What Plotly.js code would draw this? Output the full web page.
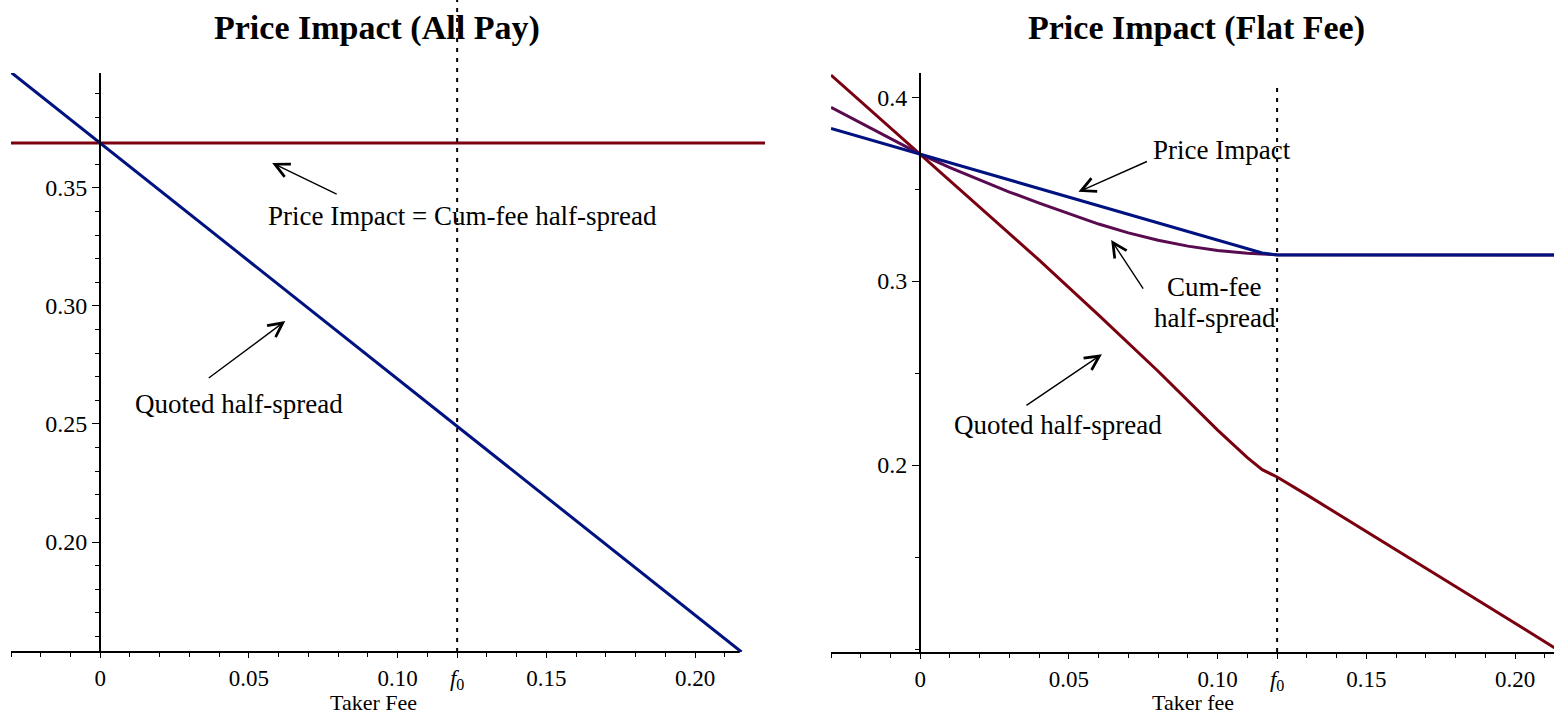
<!DOCTYPE html>
<html>
<head>
<meta charset="utf-8">
<script src="https://cdn.plot.ly/plotly-3.0.1.min.js"></script>
<style>html,body{margin:0;padding:0;background:#fff;}#chart{width:1554px;height:716px;}</style>
</head>
<body>
<div id="chart"></div>
<script>
// ---- data ----
const F0 = 0.12;

// Left panel: Price Impact (All Pay)
const leftQuotedX = [-0.03, 0, 0.05, 0.10, 0.15, 0.20, 0.2156];
const leftQuotedY = [0.399, 0.369, 0.319, 0.269, 0.219, 0.169, 0.1534];
const leftImpactX = [-0.03, 0.2235];
const leftImpactY = [0.369, 0.369];

// Right panel: Price Impact (Flat Fee)
const rightImpactX = [-0.03, 0, 0.02, 0.04, 0.06, 0.08, 0.10, 0.11, 0.115, 0.12, 0.215];
const rightImpactY = [0.383, 0.369, 0.3597, 0.3503, 0.3409, 0.3316, 0.3222, 0.3175, 0.3153, 0.3142, 0.3142];
const rightCumFeeX = [-0.03, -0.015, 0, 0.01, 0.02, 0.03, 0.04, 0.05, 0.06, 0.07, 0.08, 0.09, 0.10, 0.11, 0.12, 0.215];
const rightCumFeeY = [0.3944, 0.3817, 0.369, 0.3617, 0.3549, 0.3484, 0.3424, 0.3369, 0.3310, 0.3262, 0.3222, 0.3190, 0.3166, 0.3151, 0.3143, 0.3142];
const rightQuotedX = [-0.03, 0, 0.02, 0.04, 0.06, 0.08, 0.10, 0.11, 0.115, 0.12, 0.13, 0.15, 0.18, 0.215];
const rightQuotedY = [0.412, 0.369, 0.3402, 0.3114, 0.2815, 0.2510, 0.2190, 0.2040, 0.1975, 0.1935, 0.1838, 0.164, 0.134, 0.099];

// tick labels
const xTickVals = [0, 0.05, 0.10, F0, 0.15, 0.20];
const xTickText = ['0', '0.05', '0.10', '<i>f</i><sub>0</sub>', '0.15', '0.20'];
const xMinorVals = [-0.03, -0.02, -0.01, 0.01, 0.02, 0.03, 0.04, 0.06, 0.07, 0.08, 0.09, 0.11, 0.13, 0.14, 0.16, 0.17, 0.18, 0.19, 0.21];
const yLeftTickVals = [0.20, 0.25, 0.30, 0.35];
const yLeftTickText = ['0.20', '0.25', '0.30', '0.35'];
const yLeftMinorVals = [0.16, 0.17, 0.18, 0.19, 0.21, 0.22, 0.23, 0.24, 0.26, 0.27, 0.28, 0.29, 0.31, 0.32, 0.33, 0.34, 0.36, 0.37, 0.38, 0.39];
const yRightTickVals = [0.2, 0.3, 0.4];
const yRightTickText = ['0.2', '0.3', '0.4'];
const yRightMinorVals = [0.1, 0.15, 0.25, 0.35];

const titles = ['Price Impact (All Pay)', 'Price Impact (Flat Fee)'];
const xTitles = ['Taker Fee', 'Taker fee'];

// ---- styling ----
const RED = '#7a0010';
const BLUE = '#00127f';
const PURPLE = '#5a0a4e';
const FONT = 'Liberation Serif, Times New Roman, serif';
const LW = 3;

const traces = [
  {x: leftImpactX, y: leftImpactY, xaxis: 'x', yaxis: 'y', mode: 'lines', line: {color: RED, width: LW}, hoverinfo: 'skip'},
  {x: leftQuotedX, y: leftQuotedY, xaxis: 'x', yaxis: 'y', mode: 'lines', line: {color: BLUE, width: LW}, hoverinfo: 'skip'},
  {x: rightQuotedX, y: rightQuotedY, xaxis: 'x2', yaxis: 'y2', mode: 'lines', line: {color: RED, width: LW}, hoverinfo: 'skip'},
  {x: rightCumFeeX, y: rightCumFeeY, xaxis: 'x2', yaxis: 'y2', mode: 'lines', line: {color: PURPLE, width: LW}, hoverinfo: 'skip'},
  {x: rightImpactX, y: rightImpactY, xaxis: 'x2', yaxis: 'y2', mode: 'lines', line: {color: BLUE, width: LW}, hoverinfo: 'skip'}
];

const W = 1554, H = 716;
const px = v => v / W;
const py = v => 1 - v / H;
const yDomain = [py(652), py(73)];

const xTickFont = {family: FONT, size: 23, color: '#000'};
const yTickFont = {family: FONT, size: 24, color: '#000'};
function xAxis(domain, range, anchor, showline) {
  return {
    domain: domain, range: range, anchor: anchor,
    showline: showline, linecolor: '#000', linewidth: 2,
    showgrid: false, zeroline: false,
    ticks: 'outside', ticklen: 5, tickwidth: 1, tickcolor: '#000',
    tickmode: 'array', tickvals: xTickVals, ticktext: xTickText,
    tickfont: xTickFont,
    minor: {tickmode: 'array', tickvals: xMinorVals, ticks: 'outside', ticklen: 4, tickwidth: 1, tickcolor: '#000', showgrid: false}
  };
}
function yAxis(range, position, tv, tt, mv) {
  return {
    domain: yDomain, range: range, anchor: 'free', position: position,
    showline: true, linecolor: '#000', linewidth: 2,
    showgrid: false, zeroline: false,
    ticks: 'outside', ticklen: 7, tickwidth: 1, tickcolor: '#000',
    tickmode: 'array', tickvals: tv, ticktext: tt,
    tickfont: yTickFont,
    minor: {tickmode: 'array', tickvals: mv, ticks: 'outside', ticklen: 4, tickwidth: 1, tickcolor: '#000', showgrid: false}
  };
}

const annFont = {family: FONT, size: 27, color: '#000'};
function label(text, xref, yref, x, y) {
  return {text: text, xref: xref, yref: yref, x: x, y: y, showarrow: false, font: annFont, xanchor: 'center', yanchor: 'middle'};
}
function arrow(xref, yref, x, y, ax, ay) {
  return {text: '', xref: xref, yref: yref, x: x, y: y, ax: ax, ay: ay, showarrow: true,
          arrowhead: 5, arrowsize: 2, arrowwidth: 1.4, arrowcolor: '#000', standoff: 0, startstandoff: 0};
}

const annotations = [
  {text: '<b>' + titles[0] + '</b>', xref: 'paper', yref: 'paper', x: px(377), y: py(28), showarrow: false,
   font: {family: FONT, size: 34, color: '#000'}, xanchor: 'center', yanchor: 'middle'},
  {text: '<b>' + titles[1] + '</b>', xref: 'paper', yref: 'paper', x: px(1196), y: py(28), showarrow: false,
   font: {family: FONT, size: 34, color: '#000'}, xanchor: 'center', yanchor: 'middle'},
  {text: xTitles[0], xref: 'paper', yref: 'paper', x: px(373), y: 0, showarrow: false, borderpad: 0,
   font: {family: FONT, size: 22, color: '#000'}, xanchor: 'center', yanchor: 'bottom'},
  {text: xTitles[1], xref: 'paper', yref: 'paper', x: px(1193), y: 0, showarrow: false, borderpad: 0,
   font: {family: FONT, size: 22, color: '#000'}, xanchor: 'center', yanchor: 'bottom'},
  // left panel labels
  label('Price Impact = Cum-fee half-spread', 'x', 'y', 0.1217, 0.3381),
  arrow('x', 'y', 0.0578, 0.3606, 66, 32),
  label('Quoted half-spread', 'x', 'y', 0.0467, 0.2585),
  arrow('x', 'y', 0.0622, 0.2936, -78, 58),
  // right panel labels
  label('Price Impact', 'x2', 'y2', 0.1015, 0.3712),
  arrow('x2', 'y2', 0.0532, 0.3485, 70, -31),
  label('Cum-fee', 'x2', 'y2', 0.0988, 0.2969),
  label('half-spread', 'x2', 'y2', 0.0992, 0.2797),
  arrow('x2', 'y2', 0.0642, 0.3223, 33, 50),
  label('Quoted half-spread', 'x2', 'y2', 0.0464, 0.2217),
  arrow('x2', 'y2', 0.0611, 0.2602, -77, 52)
];

const shapes = [
  // left x-axis line (axis ends at 0.215 while the plotted line runs a bit further)
  {type: 'line', xref: 'x', yref: 'y domain', x0: -0.03, x1: 0.215, y0: 0, y1: 0, line: {color: '#000', width: 2}},
  // f0 dotted markers
  {type: 'line', xref: 'x', yref: 'paper', x0: F0, x1: F0, y0: yDomain[0], y1: 1, line: {color: '#000', width: 2, dash: '4px,6px'}},
  {type: 'line', xref: 'x2', yref: 'y2', x0: F0, x1: F0, y0: 0.0984, y1: 0.4065, line: {color: '#000', width: 2, dash: '4px,6px'}}
];

const layout = {
  width: W, height: H,
  margin: {l: 0, r: 0, t: 0, b: 0},
  paper_bgcolor: '#fff', plot_bgcolor: '#fff',
  showlegend: false,
  font: {family: FONT, color: '#000'},
  xaxis: xAxis([px(11), px(765)], [-0.03, 0.2235], 'y', false),
  yaxis: yAxis([0.1534, 0.3987], px(100), yLeftTickVals, yLeftTickText, yLeftMinorVals),
  xaxis2: xAxis([px(831), 1], [-0.03, 0.2131], 'y2', true),
  yaxis2: yAxis([0.0984, 0.4131], px(920), yRightTickVals, yRightTickText, yRightMinorVals),
  annotations: annotations,
  shapes: shapes
};

Plotly.newPlot('chart', traces, layout, {staticPlot: true, displayModeBar: false});
</script>
</body>
</html>
